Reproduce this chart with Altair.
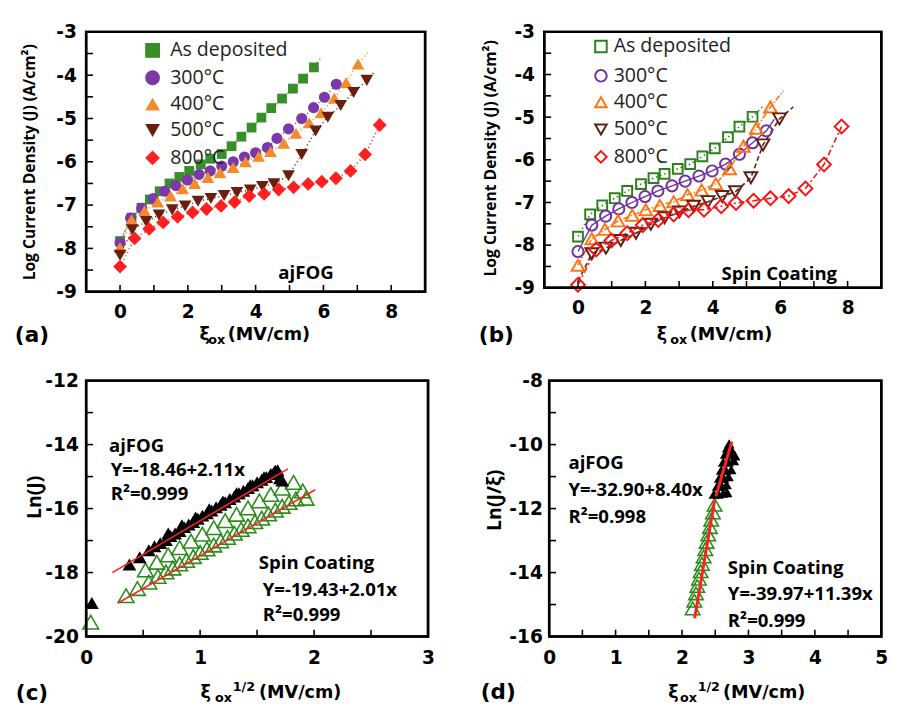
import altair as alt
import pandas as pd

# ---------------- data ----------------
series_names = ["As deposited", "300°C", "400°C", "500°C", "800°C"]
shapes = ["square", "circle", "triangle-up", "triangle-down", "diamond"]

# (a) ajFOG  J-E curves (log J vs field)
a_asdep_x = [0, 0.34, 0.63, 0.88, 1.17, 1.46, 1.75, 2.04, 2.38, 2.66, 3.0, 3.29, 3.58, 3.88, 4.17, 4.46, 4.78, 5.1, 5.4, 5.72]
a_asdep_y = [-7.83, -7.29, -7.06, -6.87, -6.68, -6.50, -6.35, -6.21, -6.06, -5.93, -5.82, -5.64, -5.42, -5.21, -4.98, -4.76, -4.54, -4.31, -4.08, -3.82]
a_300_x = [0, 0.31, 0.64, 0.98, 1.32, 1.65, 1.99, 2.33, 2.66, 3.0, 3.34, 3.67, 4.0, 4.35, 4.63, 4.97, 5.36, 5.71, 6.03, 6.38]
a_300_y = [-7.87, -7.30, -7.08, -6.85, -6.68, -6.55, -6.42, -6.29, -6.21, -6.10, -6.00, -5.89, -5.79, -5.67, -5.46, -5.24, -5.00, -4.75, -4.51, -4.21]
a_400_x = [0, 0.34, 0.72, 1.11, 1.49, 1.85, 2.2, 2.59, 2.95, 3.34, 3.7, 4.09, 4.44, 4.83, 5.19, 5.58, 5.93, 6.32, 6.67, 7.02]
a_400_y = [-7.98, -7.34, -7.13, -6.93, -6.79, -6.62, -6.50, -6.36, -6.25, -6.13, -6.00, -5.87, -5.76, -5.57, -5.34, -5.10, -4.87, -4.53, -4.17, -3.74]
a_500_x = [0, 0.36, 0.77, 1.15, 1.54, 1.92, 2.3, 2.68, 3.07, 3.45, 3.84, 4.2, 4.54, 4.97, 5.36, 5.77, 6.13, 6.51, 6.89, 7.28]
a_500_y = [-8.16, -7.57, -7.38, -7.23, -7.11, -7.02, -6.91, -6.85, -6.78, -6.71, -6.65, -6.57, -6.51, -6.32, -5.83, -5.29, -4.97, -4.70, -4.40, -4.12]
a_800_x = [0, 0.43, 0.86, 1.27, 1.70, 2.14, 2.55, 2.98, 3.38, 3.81, 4.25, 4.68, 5.12, 5.55, 5.95, 6.37, 6.80, 7.23, 7.66]
a_800_y = [-8.42, -7.77, -7.55, -7.40, -7.27, -7.17, -7.09, -7.02, -6.93, -6.79, -6.74, -6.64, -6.59, -6.51, -6.46, -6.38, -6.21, -5.83, -5.15]
a_end_x = [5.92, 6.45, 7.33, 7.52, None]
a_end_y = [-3.60, -4.15, -3.46, -3.91, None]

# (b) spin coating
b_asdep_x = [0, 0.36, 0.72, 1.09, 1.46, 1.87, 2.24, 2.57, 2.96, 3.33, 3.69, 4.06, 4.45, 4.79, 5.18]
b_asdep_y = [-7.80, -7.28, -7.07, -6.90, -6.73, -6.57, -6.43, -6.33, -6.21, -6.10, -5.92, -5.73, -5.47, -5.22, -4.99]
b_300_x = [0, 0.41, 0.82, 1.21, 1.60, 1.99, 2.37, 2.79, 3.18, 3.59, 3.98, 4.38, 4.79, 5.18, 5.59]
b_300_y = [-8.15, -7.53, -7.32, -7.15, -7.00, -6.86, -6.73, -6.61, -6.50, -6.38, -6.26, -6.10, -5.87, -5.60, -5.32]
b_400_x = [0, 0.41, 0.80, 1.19, 1.61, 2.01, 2.43, 2.84, 3.25, 3.67, 4.09, 4.5, 4.91, 5.29, 5.71]
b_400_y = [-8.47, -7.85, -7.63, -7.43, -7.30, -7.17, -7.07, -6.98, -6.82, -6.71, -6.56, -6.21, -5.68, -5.26, -4.76]
b_500_x = [0.41, 0.83, 1.27, 1.72, 2.16, 2.57, 3.01, 3.43, 3.86, 4.28, 4.67, 5.13, 5.49, 5.98]
b_500_y = [-8.20, -8.07, -7.89, -7.72, -7.51, -7.36, -7.22, -7.09, -6.98, -6.86, -6.75, -6.42, -5.65, -5.04]
b_800_x = [0, 0.54, 0.99, 1.46, 1.92, 2.38, 2.84, 3.28, 3.74, 4.25, 4.69, 5.21, 5.71, 6.25, 6.75, 7.30, 7.82]
b_800_y = [-8.93, -8.10, -7.89, -7.72, -7.53, -7.41, -7.28, -7.18, -7.17, -7.09, -7.01, -6.96, -6.90, -6.85, -6.67, -6.11, -5.22]
b_start_x = [None, None, None, 0.0, None]
b_start_y = [None, None, None, -8.85, None]
b_end_x = [5.52, 5.82, 6.10, 6.39, None]
b_end_y = [-4.72, -5.05, -4.38, -4.76, None]

# (c) Ln(J) vs sqrt(E)
c_aj_x = [0.05, 0.38, 0.47, 0.55, 0.60, 0.65, 0.70, 0.74, 0.78, 0.82, 0.86, 0.90, 0.94, 0.98, 1.02, 1.06, 1.10,
          1.14, 1.18, 1.22, 1.26, 1.30, 1.34, 1.38, 1.42, 1.46, 1.50, 1.54, 1.58, 1.62, 1.65, 1.68, 1.70, 1.72,
          0.72, 0.84, 0.96, 1.08, 1.20, 1.32, 1.44, 1.56, 1.66]
c_aj_y = [-18.95, -17.75, -17.52, -17.30, -17.18, -17.08, -16.98, -16.86, -16.78, -16.70, -16.58, -16.50, -16.42,
          -16.32, -16.22, -16.15, -16.06, -15.96, -15.88, -15.80, -15.70, -15.62, -15.52, -15.44, -15.36, -15.27,
          -15.18, -15.10, -15.01, -14.92, -14.86, -14.80, -15.05, -15.12,
          -16.78, -16.52, -16.28, -16.02, -15.78, -15.52, -15.27, -15.02, -14.82]
c_sc_x = [0.04, 0.35, 0.45, 0.55, 0.63, 0.70, 0.76, 0.82, 0.88, 0.94, 1.00, 1.06, 1.12, 1.18, 1.24, 1.30, 1.36,
          1.42, 1.48, 1.54, 1.60, 1.66, 1.72, 1.78, 1.84, 1.90, 1.93,
          0.52, 0.62, 0.72, 0.82, 0.92, 1.02, 1.12, 1.22, 1.32, 1.42, 1.52, 1.62, 1.72, 1.82]
c_sc_y = [-19.55, -18.72, -18.50, -18.30, -18.12, -17.98, -17.86, -17.73, -17.62, -17.50, -17.37, -17.26, -17.14,
          -17.01, -16.90, -16.77, -16.65, -16.54, -16.41, -16.30, -16.17, -16.05, -15.93, -15.81, -15.70, -15.45, -15.68,
          -17.92, -17.68, -17.45, -17.22, -17.02, -16.80, -16.60, -16.38, -16.18, -15.98, -15.76, -15.56, -15.36, -15.18]
c_fit_aj_x = [0.23, 1.77]
c_fit_aj_y = [-18.00, -14.76]
c_fit_sc_x = [0.28, 2.01]
c_fit_sc_y = [-18.95, -15.41]

# (d) Ln(J/E) vs sqrt(E)
d_aj_x = [2.48, 2.55, 2.62, 2.68, 2.53, 2.60, 2.67, 2.56, 2.63, 2.70, 2.59, 2.66, 2.74, 2.62, 2.70, 2.78, 2.65,
          2.73, 2.80, 2.68, 2.74, 2.71]
d_aj_y = [-11.55, -11.55, -11.52, -11.50, -11.30, -11.30, -11.25, -11.05, -11.05, -11.00, -10.80, -10.80, -10.78,
          -10.55, -10.55, -10.50, -10.30, -10.30, -10.35, -10.10, -10.15, -9.98]
d_sc_x = [2.49, 2.465, 2.44, 2.42, 2.395, 2.37, 2.35, 2.325, 2.30, 2.28, 2.255, 2.23, 2.21, 2.185, 2.16]
d_sc_y = [-11.88, -12.12, -12.35, -12.58, -12.81, -13.04, -13.27, -13.50, -13.73, -13.96, -14.19, -14.42, -14.65,
          -14.88, -15.12]
d_fit_aj_x = [2.51, 2.75]
d_fit_aj_y = [-11.62, -9.91]
d_fit_sc_x = [2.49, 2.19]
d_fit_sc_y = [-11.75, -15.43]

# axis ranges and tick positions
a_xdom, a_ydom = [-1, 9], [-9, -3]
b_xdom, b_ydom = [-1, 9], [-9, -3]
c_xdom, c_ydom = [0, 3], [-20, -12]
d_xdom, d_ydom = [0, 5], [-16, -8]
ab_xlabels = [0, 2, 4, 6, 8]
ab_ylabels = [-9, -8, -7, -6, -5, -4, -3]
ab_xticks = [0, 1, 2, 3, 4, 5, 6, 7, 8]
ab_yticks = [-8.5, -8, -7.5, -7, -6.5, -6, -5.5, -5, -4.5, -4, -3.5]
c_xlabels, c_ylabels = [0, 1, 2, 3], [-20, -18, -16, -14, -12]
c_xticks, c_yticks = [0.5, 1, 1.5, 2, 2.5], [-19, -18, -17, -16, -15, -14, -13]
d_xlabels, d_ylabels = [0, 1, 2, 3, 4, 5], [-16, -14, -12, -10, -8]
d_xticks, d_yticks = [0.5, 1, 1.5, 2, 2.5, 3, 3.5, 4, 4.5], [-15, -14, -13, -12, -11, -10, -9]

# annotation texts
c_notes_t = ["ajFOG", "Y=-18.46+2.11x", "R²=0.999", "Spin Coating", "Y=-19.43+2.01x", "R²=0.999"]
c_notes_x = [0.20, 0.215, 0.215, 1.515, 1.55, 1.55]
c_notes_y = [-14.22, -14.98, -15.73, -17.90, -18.72, -19.52]
d_notes_t = ["ajFOG", "Y=-32.90+8.40x", "R²=0.998", "Spin Coating", "Y=-39.97+11.39x", "R²=0.999"]
d_notes_x = [0.29, 0.29, 0.29, 2.69, 2.69, 2.69]
d_notes_y = [-10.75, -11.61, -12.44, -14.06, -14.86, -15.69]

# ---------------- style ----------------
TICK_FONT = "DejaVu Sans"
TEXT_FONT = "Open Sans"
a_colors = ["#3A8E2A", "#7A38A8", "#F58A2C", "#6A1E0E", "#FF1F1F"]
b_colors = ["#2F7F1F", "#7030A0", "#FF7410", "#5E2012", "#FF1010"]
a_sizes = [100, 130, 170, 170, 200]
b_sizes = [100, 130, 170, 170, 200]
GREEN = "#2A8A1A"
FITRED = "#FF2020"


def xaxis(values, pad):
    return alt.Axis(values=values, title=None, ticks=False, domain=False, grid=False,
                    labelFont=TICK_FONT, labelFontWeight="bold", labelFontSize=19, labelColor="black",
                    labelPadding=pad, labelFlush=False, labelOverlap=False, labelExpr="'' + datum.value")


def yaxis(values, pad, title, tx, ty, tsize):
    return alt.Axis(values=values, title=title, titleX=tx, titleY=ty, titleAngle=270, titleBaseline="middle",
                    titleAlign="center", titleFont=TEXT_FONT, titleFontSize=tsize, titleFontWeight="bold",
                    titleColor="black", ticks=False, domain=False, grid=False,
                    labelFont=TICK_FONT, labelFontWeight="bold", labelFontSize=19, labelColor="black",
                    labelPadding=pad, labelFlush=False, labelOverlap=False, labelExpr="'' + datum.value")


class Panel:
    def __init__(self, xdom, ydom, W, H, xax, yax):
        self.xdom, self.ydom, self.W, self.H = xdom, ydom, W, H
        self.xs = alt.Scale(domain=xdom, nice=False, zero=False)
        self.ys = alt.Scale(domain=ydom, nice=False, zero=False)
        self.xax = xax
        self.yax = yax

    def X(self, f):
        return alt.X(f, scale=self.xs, axis=self.xax)

    def Y(self, f):
        return alt.Y(f, scale=self.ys, axis=self.yax)


def tick_layer(p, xt, yt, L=7):
    ly = (p.ydom[1] - p.ydom[0]) * L / p.H
    lx = (p.xdom[1] - p.xdom[0]) * L / p.W
    rows = []
    for i, v in enumerate(xt):
        rows += [{"x": v, "y": p.ydom[0], "id": "x%d" % i, "o": 0},
                 {"x": v, "y": p.ydom[0] + ly, "id": "x%d" % i, "o": 1}]
    for i, v in enumerate(yt):
        rows += [{"x": p.xdom[0], "y": v, "id": "y%d" % i, "o": 0},
                 {"x": p.xdom[0] + lx, "y": v, "id": "y%d" % i, "o": 1}]
    return alt.Chart(pd.DataFrame(rows)).mark_line(color="#000000", strokeWidth=1.6).encode(
        x=p.X("x:Q"), y=p.Y("y:Q"), detail="id:N", order="o:Q")


def frame(p):
    x0, x1 = p.xdom
    y0, y1 = p.ydom
    df = pd.DataFrame({"x": [x0, x1, x1, x0, x0], "y": [y0, y0, y1, y1, y0], "o": [0, 1, 2, 3, 4]})
    return alt.Chart(df).mark_line(color="#000000", strokeWidth=2.5).encode(
        x=p.X("x:Q"), y=p.Y("y:Q"), order="o:Q")


def ptext(txt, x, y, size, font=TICK_FONT, weight="bold", baseline="alphabetic", color="black"):
    return alt.Chart(pd.DataFrame({"t": [txt]})).mark_text(
        align="left", baseline=baseline, font=font, fontSize=size, fontWeight=weight, color=color
    ).encode(x=alt.value(x), y=alt.value(y), text="t:N")


def dtext(p, ts, xs, ys, size):
    return alt.Chart(pd.DataFrame({"t": ts, "x": xs, "y": ys})).mark_text(
        align="left", baseline="alphabetic", font=TEXT_FONT, fontSize=size, fontWeight="bold", color="black"
    ).encode(x=p.X("x:Q"), y=p.Y("y:Q"), text="t:N")


def series_points(p, xs_list, ys_list, colors, sizes, filled):
    out = []
    for i in range(5):
        df = pd.DataFrame({"x": xs_list[i], "y": ys_list[i]})
        mk = dict(shape=shapes[i], size=sizes[i], color=colors[i], opacity=1, filled=filled)
        if not filled:
            mk["strokeWidth"] = 2
        out.append(alt.Chart(df).mark_point(**mk).encode(x=p.X("x:Q"), y=p.Y("y:Q")))
    return out


def legend_layers(colors, filled, sym_x, lab_x, ys, sym_size):
    out = []
    for i in range(5):
        mk = dict(shape=shapes[i], size=sym_size, color=colors[i], opacity=1, filled=filled)
        if not filled:
            mk["strokeWidth"] = 2
        out.append(alt.Chart(pd.DataFrame({"k": [i]})).mark_point(**mk).encode(
            x=alt.value(sym_x), y=alt.value(ys[i])))
        out.append(ptext(series_names[i], lab_x, ys[i], 20, font=TEXT_FONT, weight="normal",
                         baseline="middle", color="#222222"))
    return out


def line_layers(p, xs_list, ys_list, sx, sy, ex, ey, colors, dashes, widths):
    out = []
    for i in range(5):
        xs = list(xs_list[i])
        ys = list(ys_list[i])
        if sx[i] is not None:
            xs = [sx[i]] + xs
            ys = [sy[i]] + ys
        if ex[i] is not None:
            xs = xs + [ex[i]]
            ys = ys + [ey[i]]
        df = pd.DataFrame({"x": xs, "y": ys, "o": list(range(len(xs)))})
        mk = dict(color=colors[i], strokeWidth=widths[i])
        if dashes[i]:
            mk["strokeDash"] = dashes[i]
        out.append(alt.Chart(df).mark_line(**mk).encode(x=p.X("x:Q"), y=p.Y("y:Q"), order="o:Q"))
    return out


def fit_layer(p, xs, ys, width):
    return alt.Chart(pd.DataFrame({"x": xs, "y": ys})).mark_line(color=FITRED, strokeWidth=width).encode(
        x=p.X("x:Q"), y=p.Y("y:Q"))


# ---------------- panel (a) ----------------
WA, HA = 347, 266
pa = Panel(a_xdom, a_ydom, WA, HA, xaxis(ab_xlabels, 11),
           yaxis(ab_ylabels, 10, "Log Current Density (J) (A/cm²)", -58, 133, 16))
a_xs = [a_asdep_x, a_300_x, a_400_x, a_500_x, a_800_x]
a_ys = [a_asdep_y, a_300_y, a_400_y, a_500_y, a_800_y]
panel_a = alt.layer(
    tick_layer(pa, ab_xticks, ab_yticks),
    *line_layers(pa, a_xs, a_ys, [None] * 5, [None] * 5, a_end_x, a_end_y, a_colors, [[1, 3]] * 5, [1.6] * 5),
    *series_points(pa, a_xs, a_ys, a_colors, a_sizes, True),
    frame(pa),
    *legend_layers(a_colors, True, 68, 86, [19, 47, 74, 101, 129], 230),
    dtext(pa, ["ajFOG"], [4.67], [-8.71], 19),
    ptext("ξ", 116, HA + 49, 18), ptext("ox", 125, HA + 54, 13), ptext("(MV/cm)", 145, HA + 49, 18),
    ptext("(a)", -73, HA + 51, 22),
).properties(width=WA, height=HA)

# ---------------- panel (b) ----------------
WB, HB = 345, 262
pb = Panel(b_xdom, b_ydom, WB, HB, xaxis(ab_xlabels, 11),
           yaxis(ab_ylabels, 10, "Log Current Density (J) (A/cm²)", -55, 129, 16))
b_xs = [b_asdep_x, b_300_x, b_400_x, b_500_x, b_800_x]
b_ys = [b_asdep_y, b_300_y, b_400_y, b_500_y, b_800_y]
panel_b = alt.layer(
    tick_layer(pb, ab_xticks, ab_yticks),
    *line_layers(pb, b_xs, b_ys, b_start_x, b_start_y, b_end_x, b_end_y, b_colors,
                 [[1.5, 3], None, [6, 2, 1.5, 2], [5, 3], [6, 3, 2, 3]], [1.6, 1.4, 1.6, 1.6, 1.6]),
    *series_points(pb, b_xs, b_ys, b_colors, b_sizes, False),
    frame(pb),
    *legend_layers(b_colors, False, 58, 71, [15, 45, 72, 100, 128], 140),
    dtext(pb, ["Spin Coating"], [4.26], [-8.81], 19),
    ptext("ξ", 115, HB + 53, 18), ptext("ox", 129, HB + 58, 13), ptext("(MV/cm)", 149, HB + 53, 18),
    ptext("(b)", -67, HB + 55, 22),
).properties(width=WB, height=HB)

# ---------------- panel (c) ----------------
WC, HC = 350, 262
pc = Panel(c_xdom, c_ydom, WC, HC, xaxis(c_xlabels, 13), yaxis(c_ylabels, 8, "Ln(J)", -53, 119, 20))
pts_c_sc = alt.Chart(pd.DataFrame({"x": c_sc_x, "y": c_sc_y})).mark_point(
    shape="triangle-up", filled=False, color=GREEN, strokeWidth=1.6, size=260, opacity=1).encode(
    x=pc.X("x:Q"), y=pc.Y("y:Q"))
pts_c_aj = alt.Chart(pd.DataFrame({"x": c_aj_x, "y": c_aj_y})).mark_point(
    shape="triangle-up", filled=True, color="black", size=200, opacity=1).encode(
    x=pc.X("x:Q"), y=pc.Y("y:Q"))
panel_c = alt.layer(
    tick_layer(pc, c_xticks, c_yticks), pts_c_sc, pts_c_aj,
    fit_layer(pc, c_fit_aj_x, c_fit_aj_y, 1.6), fit_layer(pc, c_fit_sc_x, c_fit_sc_y, 1.6), frame(pc),
    dtext(pc, c_notes_t, c_notes_x, c_notes_y, 19),
    ptext("ξ", 117, HC + 63, 18), ptext("ox", 132, HC + 67, 13), ptext("1/2", 150, HC + 56, 13),
    ptext("(MV/cm)", 177, HC + 63, 18),
    ptext("(c)", -72, HC + 65, 22),
).properties(width=WC, height=HC)

# ---------------- panel (d) ----------------
WD, HD = 340, 262
pdd = Panel(d_xdom, d_ydom, WD, HD, xaxis(d_xlabels, 13), yaxis(d_ylabels, 7, "Ln(J/ξ)", -56, 122, 20))
pts_d_sc = alt.Chart(pd.DataFrame({"x": d_sc_x, "y": d_sc_y})).mark_point(
    shape="triangle-up", filled=False, color=GREEN, strokeWidth=1.6, size=220, opacity=1).encode(
    x=pdd.X("x:Q"), y=pdd.Y("y:Q"))
pts_d_aj = alt.Chart(pd.DataFrame({"x": d_aj_x, "y": d_aj_y})).mark_point(
    shape="triangle-up", filled=True, color="black", size=120, opacity=1).encode(
    x=pdd.X("x:Q"), y=pdd.Y("y:Q"))
panel_d = alt.layer(
    tick_layer(pdd, d_xticks, d_yticks), pts_d_sc, pts_d_aj,
    fit_layer(pdd, d_fit_aj_x, d_fit_aj_y, 3), fit_layer(pdd, d_fit_sc_x, d_fit_sc_y, 3), frame(pdd),
    dtext(pdd, d_notes_t, d_notes_x, d_notes_y, 19),
    ptext("ξ", 122, HD + 63, 18), ptext("ox", 134, HD + 67, 13), ptext("1/2", 152, HD + 56, 13),
    ptext("(MV/cm)", 178, HD + 63, 18),
    ptext("(d)", -70, HD + 64, 22),
).properties(width=WD, height=HD)

row1 = alt.hconcat(panel_a, panel_b, spacing=46)
row2 = alt.hconcat(panel_c, panel_d, spacing=44)
chart = alt.vconcat(row1, row2, spacing=21).configure_view(stroke="black", strokeWidth=2.5)

chart.save("out.html", embed_options={"renderer": "svg", "actions": False})
